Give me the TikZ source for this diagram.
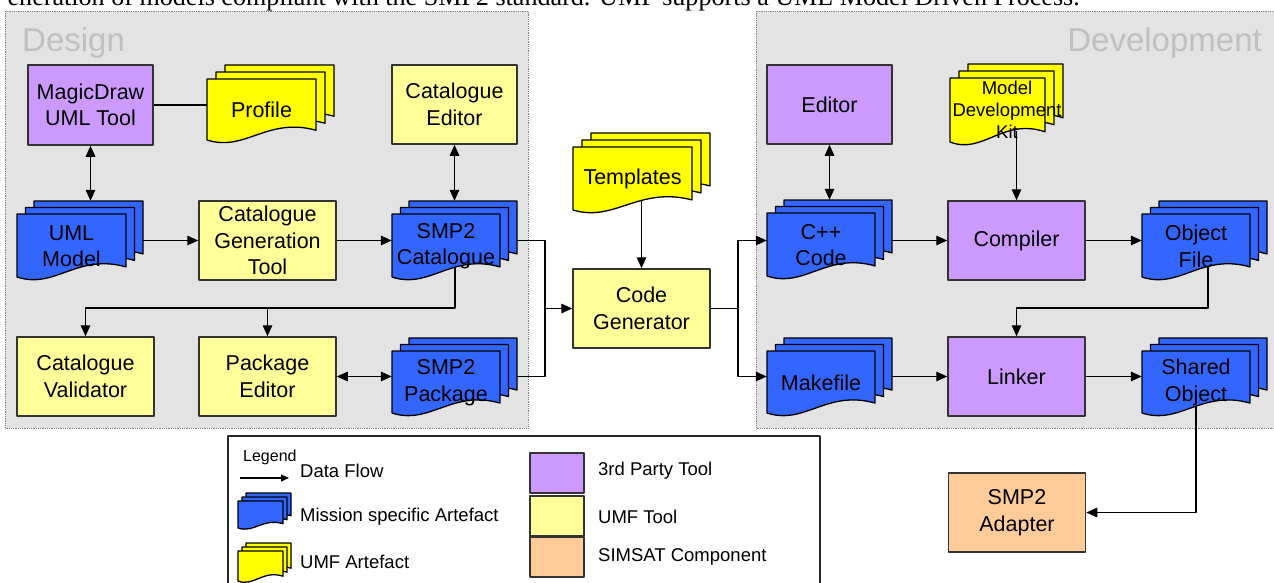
\documentclass[tikz,border=0pt]{standalone}
\usepackage{fontspec}
\setmainfont{Liberation Sans}
\newfontfamily\introfont{Liberation Serif}
\usetikzlibrary{arrows.meta,fit}

\definecolor{thirdparty}{HTML}{CC99FF}
\definecolor{umftool}{HTML}{FFFF99}
\definecolor{umfart}{HTML}{FFFF00}
\definecolor{missionart}{HTML}{3366FF}
\definecolor{simsat}{HTML}{FFCC99}
\definecolor{panelgray}{HTML}{E3E3E3}
\definecolor{paneltext}{HTML}{C0C0C0}

% one page of a document stack: x, y (top left), width, height, colour
\newcommand{\docpage}[5]{%
  \filldraw[docline,fill=#5] ({#1},{#2}) -- ({#1+#3},{#2}) -- ({#1+#3},{#2+0.84*#4})
    .. controls ({#1+0.55*#3},{#2+0.62*#4}) and ({#1+0.35*#3},{#2+1.2*#4}) .. ({#1},{#2+#4}) -- cycle;}
% three pages: name, x, y, w, h, dx, dy
\newcommand{\docpile}[8]{%
  \docpage{#2+2*#6}{#3-2*#7}{#4}{#5}{#8}
  \docpage{#2+#6}{#3-#7}{#4}{#5}{#8}
  \docpage{#2}{#3}{#4}{#5}{#8}
  \path ({#2},{#3-2*#7}) coordinate (#1-nw) ({#2+#4+2*#6},{#3+#5}) coordinate (#1-se);
  \node[fit=(#1-nw)(#1-se),inner sep=0pt] (#1) {};}
\newcommand{\docstack}[9]{%
  \docpile{#1}{#2}{#3}{#4}{#5}{8.5}{6.5}{#8}
  \node[doctext] (#1-txt) at ({#2+0.5*#4+#6},{#3+0.51*#5+#7}) {#9};}

\begin{document}
\begin{tikzpicture}[x=1pt,y=-1pt,>={Triangle[length=11pt,width=9.5pt]},line join=round,
  panel/.style={fill=panelgray,draw=black!50,densely dotted,line width=0.8pt},
  paneltitle/.style={text=paneltext,font=\fontsize{33}{36}\selectfont,inner sep=0pt},
  tool/.style={draw=black!80,line width=1.5pt,minimum width=137pt,minimum height=79pt,
    inner sep=0pt,align=center,font=\fontsize{21.5}{26.5}\selectfont},
  doctext/.style={align=center,inner sep=0pt,font=\fontsize{21.5}{26.5}\selectfont},
  docline/.style={draw=black,line width=1.3pt},
  flow/.style={line width=1.3pt},
  legendtext/.style={anchor=west,inner sep=0pt,font=\fontsize{18.5}{21}\selectfont},
  swatch/.style={draw=black!80,line width=1.4pt,minimum width=54pt,minimum height=40pt,inner sep=0pt}]
\useasboundingbox (0,0) rectangle (1274,583);

% panels
\draw[panel] (5,11) rectangle (528,428);
\draw[panel] (756,11) rectangle (1284,428);
\node[paneltitle,anchor=base west] (design-lbl) at (22,52) {Design};
\node[paneltitle,anchor=base east] (devel-lbl) at (1262,52) {Development};
\node[anchor=base east,inner sep=0pt,font=\introfont\fontsize{26.1}{30}\selectfont] (intro) at (1080,6)
  {eneration of models compliant with the SMP2 standard. UMF supports a UML Model Driven Process.};

% design
\node[tool,fill=thirdparty,minimum width=125pt,minimum height=80pt] (magic) at (90.5,105) {MagicDraw\\UML Tool};
\node[tool,fill=umftool,minimum width=125pt] (catedit) at (454.5,104.5) {Catalogue\\Editor};
\node[tool,fill=umftool] (cgt) at (267.5,240.5) {Catalogue\\Generation\\Tool};
\node[tool,fill=umftool] (catval) at (85.5,376.5) {Catalogue\\Validator};
\node[tool,fill=umftool] (pkged) at (267.5,376.5) {Package\\Editor};
\docpile{profile}{207}{79}{109}{61}{9}{7}{umfart}
\node[doctext] (profile-txt) at (261.5,110) {Profile};
\docstack{uml}{17}{214}{109}{63}{0}{0}{missionart}{UML\\Model}
\docstack{smpcat}{392}{214}{108}{63}{0}{0}{missionart}{SMP2\\Catalogue}
\docstack{smppkg}{392}{351}{108}{62}{0}{0}{missionart}{SMP2\\Package}

% generator
\docpile{templates}{573}{147}{119}{63}{9}{7}{umfart}
\node[doctext] (templates-txt) at (632.5,179) {Templates};
\node[tool,fill=umftool] (codegen) at (641.5,308.5) {Code\\Generator};

% development
\node[tool,fill=thirdparty,minimum width=125pt] (editor) at (829.5,104.5) {Editor};
\node[tool,fill=thirdparty] (compiler) at (1016.5,240.5) {Compiler};
\node[tool,fill=thirdparty] (linker) at (1016.5,376.5) {Linker};
\node[tool,fill=simsat] (adapter) at (1017,512.5) {SMP2\\Adapter};
\docpile{mdk}{950}{78}{95}{64}{9}{7}{umfart}
\node[doctext,font=\fontsize{18.5}{22}\selectfont] (mdk-txt) at (1007,110) {Model\\Development\\Kit};
\docstack{cpp}{767}{213}{108}{63}{0}{0}{missionart}{C++\\Code}
\docstack{objfile}{1142}{214}{108}{63}{0}{0}{missionart}{Object\\File}
\docstack{makefile}{767}{351}{108}{62}{0}{0}{missionart}{Makefile}
\docstack{shared}{1142}{351}{108}{62}{0}{0}{missionart}{Shared\\Object}

% connectors
\coordinate (catout) at (455,267);
\coordinate (catbend) at (455,308);
\coordinate (joinL) at (545,308.5);
\coordinate (joinR) at (738,308.5);
\coordinate (tplout) at (641.5,201);
\coordinate (mdkout) at (1016.5,131);
\coordinate (objout) at (1208,267);
\coordinate (objbend) at (1208,308);
\coordinate (shdout) at (1196,407);
\draw[flow] (magic.east) -- (magic.east -| profile.west);
\draw[flow,<->] (magic.south) -- (magic.south |- uml.north);
\draw[flow,->] (uml.east |- cgt.west) -- (cgt.west);
\draw[flow,->] (cgt.east) -- (cgt.east -| smpcat.west);
\draw[flow,<->] (catedit.south) -- (catedit.south |- smpcat.north);
\draw[flow,->] (catout) -- (catbend) -| (catval.north);
\draw[flow,->] (catbend -| pkged.north) -- (pkged.north);
\draw[flow,<->] (pkged.east) -- (pkged.east -| smppkg.west);
\draw[flow] (smpcat.east |- cgt.east) -| (joinL);
\draw[flow] (smppkg.east |- pkged.east) -| (joinL);
\draw[flow,->] (joinL) -- (codegen.west);
\draw[flow,->] (tplout) -- (codegen.north);
\draw[flow] (codegen.east) -- (joinR);
\draw[flow,->] (joinR) |- (compiler.west -| cpp.west);
\draw[flow,->] (joinR) |- (linker.west -| makefile.west);
\draw[flow,<->] (editor.south) -- (editor.south |- cpp.north);
\draw[flow,->] (mdkout) -- (compiler.north);
\draw[flow,->] (cpp.east |- compiler.west) -- (compiler.west);
\draw[flow,->] (compiler.east) -- (compiler.east -| objfile.west);
\draw[flow,->] (objout) -- (objbend) -| (linker.north);
\draw[flow,->] (makefile.east |- linker.west) -- (linker.west);
\draw[flow,->] (linker.east) -- (linker.east -| shared.west);
\draw[flow,->] (shdout) |- (adapter.east);

% legend
\draw[draw=black!85,line width=1.3pt] (228,436) rectangle (820,600);
\node[anchor=base west,inner sep=0pt,font=\fontsize{16}{18}\selectfont] (legend-lbl) at (243,461) {Legend};
\coordinate (lgA) at (240,478);
\coordinate (lgB) at (289,478);
\draw[line width=1.2pt,-{Triangle[length=8pt,width=7pt]}] (lgA) -- (lgB);
\node[legendtext] (lg-flow) at (300,471) {Data Flow};
\docpile{lg-blue}{238}{501}{45}{27}{4}{4}{missionart}
\node[legendtext] (lg-mission) at (300,517) {Mission specific Artefact};
\docpile{lg-yellow}{238}{551}{45}{30}{4}{4}{umfart}
\node[legendtext] (lg-umfart) at (300,562) {UMF Artefact};
\node[swatch,fill=thirdparty] (sw-third) at (557,473) {};
\node[swatch,fill=umftool] (sw-umf) at (557,516) {};
\node[swatch,fill=simsat] (sw-simsat) at (557,557) {};
\node[legendtext] (lg-third) at (598,471) {3rd Party Tool};
\node[legendtext] (lg-umftool) at (598,517) {UMF Tool};
\node[legendtext] (lg-simsat) at (598,557) {SIMSAT Component};
\end{tikzpicture}
\end{document}
